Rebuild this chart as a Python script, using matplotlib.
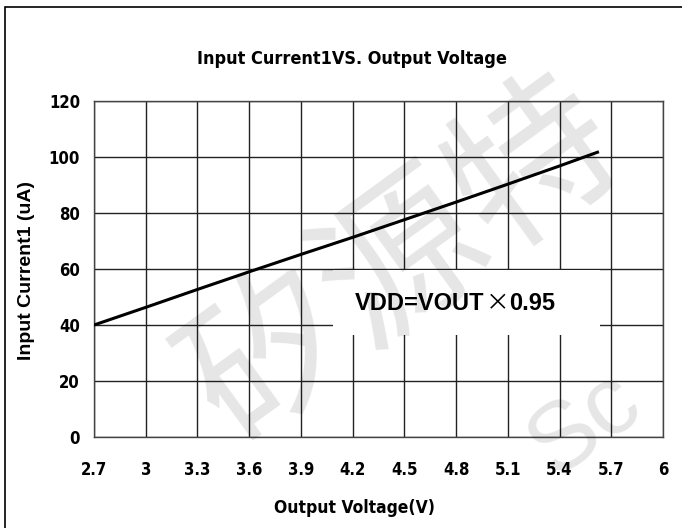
import matplotlib
matplotlib.use("Agg")
import matplotlib.pyplot as plt
from matplotlib.patches import Rectangle

voltage = [2.7, 3.0, 3.3, 3.6, 3.9, 4.2, 4.5, 4.8, 5.1, 5.4, 5.62]
current = [40.0, 46.3, 52.7, 59.0, 65.2, 71.3, 77.6, 83.9, 90.3, 96.8, 101.7]
x_ticks = [2.7, 3.0, 3.3, 3.6, 3.9, 4.2, 4.5, 4.8, 5.1, 5.4, 5.7, 6.0]
x_tick_labels = ["2.7", "3", "3.3", "3.6", "3.9", "4.2", "4.5", "4.8", "5.1", "5.4", "5.7", "6"]
y_ticks = [0, 20, 40, 60, 80, 100, 120]

COND = dict(family="DejaVu Sans", stretch="condensed", fontweight="bold")
ARIAL = ["Liberation Sans", "DejaVu Sans"]

fig = plt.figure(figsize=(6.82, 5.28), dpi=100)
ax = fig.add_axes([94/682, 1-437/528, 569/682, 336/528])

ax.plot(voltage, current, color="black", lw=2.2, zorder=3)
ax.set_xlim(2.7, 6.0)
ax.set_ylim(0, 120)
ax.set_xticks(x_ticks)
ax.set_xticklabels(x_tick_labels)
ax.set_yticks(y_ticks)
ax.grid(True, color="#222222", lw=1.0)
ax.set_axisbelow(True)
for s in ax.spines.values():
    s.set_color("#444444")
    s.set_linewidth(1.0)
ax.tick_params(length=0)
ax.tick_params(axis='x', pad=17)
ax.tick_params(axis='y', pad=10)
for lab in ax.get_xticklabels() + ax.get_yticklabels():
    lab.set_fontfamily("DejaVu Sans")
    lab.set_fontstretch("condensed")
    lab.set_fontweight("bold")
    lab.set_fontsize(12)

# white box behind annotation
ax.add_patch(Rectangle((0.42, 0.304), 0.469, 0.193, transform=ax.transAxes,
                       fc="white", ec="none", zorder=2.5))
t1 = ax.text(0.4587, 0.398, "VDD=VOUT", transform=ax.transAxes, fontsize=17,
             fontweight="bold", family=ARIAL, ha="left", va="center", zorder=5)
t2 = ax.annotate("\u00d7", xy=(1, 0.5), xycoords=t1, xytext=(1, 0), textcoords="offset points",
                 fontsize=17, family=["Noto Sans CJK SC", "DejaVu Sans"], ha="left", va="center",
                 zorder=5)
t3 = ax.annotate("0.95", xy=(1, 0.5), xycoords=t2, xytext=(0, 0), textcoords="offset points",
                 fontsize=17, fontweight="bold", family=ARIAL, ha="left", va="center", zorder=5)

fig.text(352/682, 1-59/528, "Input Current1VS. Output Voltage", fontsize=13,
         ha="center", va="center", **COND)
fig.text(354/682, 1-508/528, "Output Voltage(V)", fontsize=12.5,
         ha="center", va="center", **COND)
fig.text(27/682, 1-270/528, "Input Current1 (uA)", fontsize=14, rotation=90,
         fontweight="bold", family=ARIAL, ha="center", va="center")

# faint watermark (kept inside the figure)
fig.text(405/682, 1-262/528, "矽源特", rotation=36, fontsize=118, color="black", alpha=0.1,
         family=["Noto Sans CJK SC", "DejaVu Sans"], ha="center", va="center", zorder=10)
fig.text(585/682, 1-425/528, "Sc", rotation=36, fontsize=70, color="black", alpha=0.1,
         family=ARIAL, ha="center", va="center", zorder=10)

fig.patches.append(Rectangle((5/682, -0.02), 1.0, 1 - 7/528 + 0.02, transform=fig.transFigure,
                             fill=False, ec="black", lw=1.2))

fig.savefig("out.png", dpi=100)
